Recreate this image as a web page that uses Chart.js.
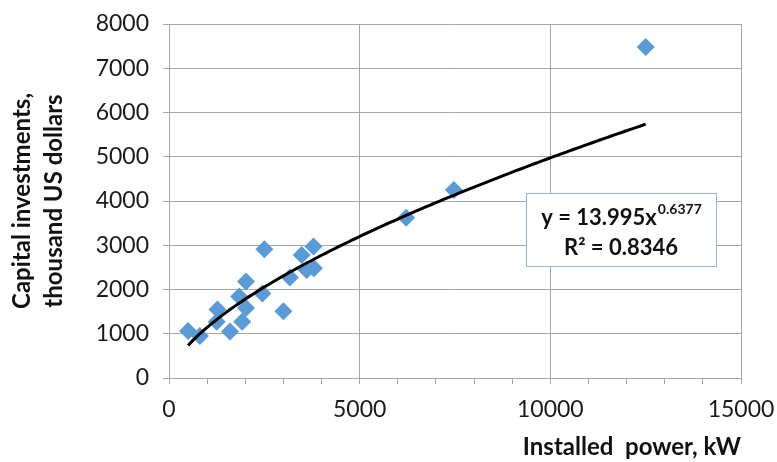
<!DOCTYPE html>
<html>
<head>
<meta charset="utf-8">
<script src="https://cdn.jsdelivr.net/npm/chart.js@4"></script>
<style>
html,body{margin:0;padding:0;background:#fff;}
#wrap{position:relative;width:777px;height:462px;}
</style>
</head>
<body>
<div id="wrap"><canvas id="c" width="777" height="462"></canvas></div>
<script>
// Installed power, kW
const powerKW = [500, 810, 1270, 1250, 1600, 1840, 2020, 2020, 1920, 2450, 2500, 3000, 3170, 3480, 3610, 3790, 3800, 6220, 7470, 12500];
// Capital investments, thousand US dollars
const investments = [1060, 950, 1550, 1270, 1050, 1840, 2180, 1580, 1270, 1910, 2910, 1510, 2270, 2780, 2440, 2970, 2480, 3620, 4250, 7480];
// Power trendline shown on chart: y = a * x^b
const trendA = 13.995;
const trendB = 0.6377;
const trendR2 = 0.8346;
const xTicks = [0, 5000, 10000, 15000];
const yTicks = [0, 1000, 2000, 3000, 4000, 5000, 6000, 7000, 8000];

const points = powerKW.map((x, i) => ({x: x, y: investments[i]}));
const xMin = Math.min(...powerKW), xMax = Math.max(...powerKW);
const trend = [];
for (let k = 0; k <= 120; k++) {
  const x = xMin + (xMax - xMin) * k / 120;
  trend.push({x: x, y: trendA * Math.pow(x, trendB)});
}

const FONT = "Lato, 'Open Sans', sans-serif";
const gridGray = '#a6a6a6';

const eqBox = {
  id: 'eqBox',
  afterDatasetsDraw(chart) {
    const ctx = chart.ctx;
    const x0 = 526, y0 = 193, w = 190, h = 73;
    ctx.save();
    ctx.fillStyle = '#ffffff';
    ctx.fillRect(x0, y0, w, h);
    ctx.strokeStyle = '#8db8e2';
    ctx.lineWidth = 1;
    ctx.strokeRect(x0 + 0.5, y0 + 0.5, w, h);
    ctx.fillStyle = '#111';
    ctx.textBaseline = 'alphabetic';
    const main = 'y = ' + trendA.toFixed(3) + 'x';
    const sup = String(trendB);
    ctx.font = "bold 22px " + FONT;
    const mw = ctx.measureText(main).width;
    ctx.font = "bold 14px " + FONT;
    const sw = ctx.measureText(sup).width;
    const cx = x0 + w / 2;
    let sx = cx - (mw + sw) / 2;
    ctx.font = "bold 22px " + FONT;
    ctx.textAlign = 'left';
    ctx.fillText(main, sx, y0 + 32);
    ctx.font = "bold 14px " + FONT;
    ctx.fillText(sup, sx + mw + 1, y0 + 21);
    ctx.font = "bold 22px " + FONT;
    ctx.textAlign = 'center';
    ctx.fillText('R\u00B2 = ' + trendR2.toFixed(4), cx, y0 + 62);
    ctx.restore();
  }
};

new Chart(document.getElementById('c'), {
  type: 'scatter',
  data: {
    datasets: [
      {
        type: 'line',
        data: trend,
        borderColor: '#000000',
        borderWidth: 3,
        pointRadius: 0,
        fill: false,
        tension: 0
      },
      {
        data: points,
        pointStyle: 'rectRot',
        pointRadius: 9,
        pointHoverRadius: 9,
        backgroundColor: '#5b9bd5',
        borderColor: '#5b9bd5',
        borderWidth: 0
      }
    ]
  },
  plugins: [eqBox],
  options: {
    responsive: false,
    animation: false,
    events: [],
    layout: {padding: {top: 24, right: 36, left: 0, bottom: 0}},
    plugins: {legend: {display: false}, tooltip: {enabled: false}},
    scales: {
      x: {
        type: 'linear',
        min: 0, max: 15000,
        afterFit(s) { s.height = 84; s.paddingLeft = 0; s.paddingRight = 0; },
        afterBuildTicks(s) {
          const t = [];
          for (let v = 0; v <= 15000; v += 1000) t.push({value: v});
          s.ticks = t;
        },
        ticks: {
          autoSkip: false,
          maxRotation: 0,
          padding: 12,
          color: '#1a1a1a',
          font: {family: FONT, size: 23},
          callback: (v) => xTicks.includes(v) ? String(v) : ''
        },
        grid: {
          color: (c) => (c.tick && c.tick.value % 5000 === 0) ? gridGray : 'rgba(0,0,0,0)',
          tickColor: gridGray,
          tickLength: 6,
          lineWidth: 1
        },
        border: {color: gridGray, width: 1},
        title: {
          display: true,
          text: 'Installed  power, kW',
          align: 'end',
          color: '#111',
          font: {family: FONT, size: 24, weight: 'bold'},
          padding: {top: 0, bottom: 0}
        }
      },
      y: {
        type: 'linear',
        min: 0, max: 8000,
        afterFit(s) { s.width = 169; s.paddingTop = 0; s.paddingBottom = 0; },
        afterBuildTicks(s) { s.ticks = yTicks.map(v => ({value: v})); },
        ticks: {
          padding: 14,
          color: '#1a1a1a',
          font: {family: FONT, size: 23},
          callback: (v) => String(v)
        },
        grid: {
          color: gridGray,
          tickColor: gridGray,
          tickLength: 6,
          lineWidth: 1
        },
        border: {color: gridGray, width: 1},
        title: {
          display: true,
          text: ['Capital investments,', 'thousand US dollars'],
          color: '#111',
          font: {family: FONT, size: 24, weight: 'bold', lineHeight: 1.35},
          padding: {top: 6, bottom: 0}
        }
      }
    }
  }
});
</script>
</body>
</html>
